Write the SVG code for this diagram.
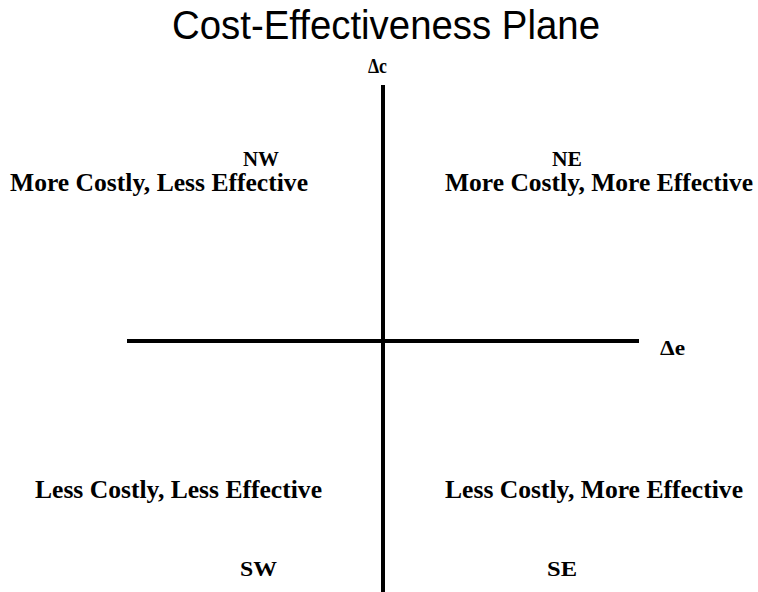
<svg xmlns="http://www.w3.org/2000/svg" width="758" height="592" viewBox="0 0 758 592">
<style>
.title{font-family:"Liberation Sans",Arial,sans-serif;font-size:40px;fill:#000}
.lbl{font-family:"Liberation Serif","Times New Roman",serif;font-weight:bold;font-size:25px;fill:#000}
.dir{font-family:"Liberation Serif","Times New Roman",serif;font-weight:bold;font-size:22px;fill:#000}
.ax{font-family:"Liberation Serif","Times New Roman",serif;font-weight:bold;font-size:20px;fill:#000}
.axis{stroke:#000;stroke-width:4;fill:none}
</style>
<rect width="758" height="592" fill="#fff"/>
<g id="title"><text class="title" x="172" y="39" textLength="428" lengthAdjust="spacingAndGlyphs">Cost-Effectiveness Plane</text></g>
<g id="connectors">
<line class="axis" x1="383" y1="85" x2="383" y2="592"/>
<line class="axis" x1="127" y1="341" x2="639" y2="341"/>
</g>
<g id="axis-c"><text class="ax" x="368" y="73" textLength="19" lengthAdjust="spacingAndGlyphs">Δc</text></g>
<g id="axis-e"><text class="ax" x="660" y="355" textLength="25" lengthAdjust="spacingAndGlyphs">Δe</text></g>
<g id="nw">
<text class="dir" x="243" y="166" textLength="36" lengthAdjust="spacingAndGlyphs">NW</text>
<text class="lbl" x="10" y="191" textLength="298" lengthAdjust="spacingAndGlyphs">More Costly, Less Effective</text>
</g>
<g id="ne">
<text class="dir" x="552" y="166" textLength="30" lengthAdjust="spacingAndGlyphs">NE</text>
<text class="lbl" x="445" y="191" textLength="308" lengthAdjust="spacingAndGlyphs">More Costly, More Effective</text>
</g>
<g id="sw">
<text class="lbl" x="35" y="498" textLength="287" lengthAdjust="spacingAndGlyphs">Less Costly, Less Effective</text>
<text class="dir" x="240" y="576" textLength="37" lengthAdjust="spacingAndGlyphs">SW</text>
</g>
<g id="se">
<text class="lbl" x="445" y="498" textLength="298" lengthAdjust="spacingAndGlyphs">Less Costly, More Effective</text>
<text class="dir" x="547" y="576" textLength="30" lengthAdjust="spacingAndGlyphs">SE</text>
</g>
</svg>
